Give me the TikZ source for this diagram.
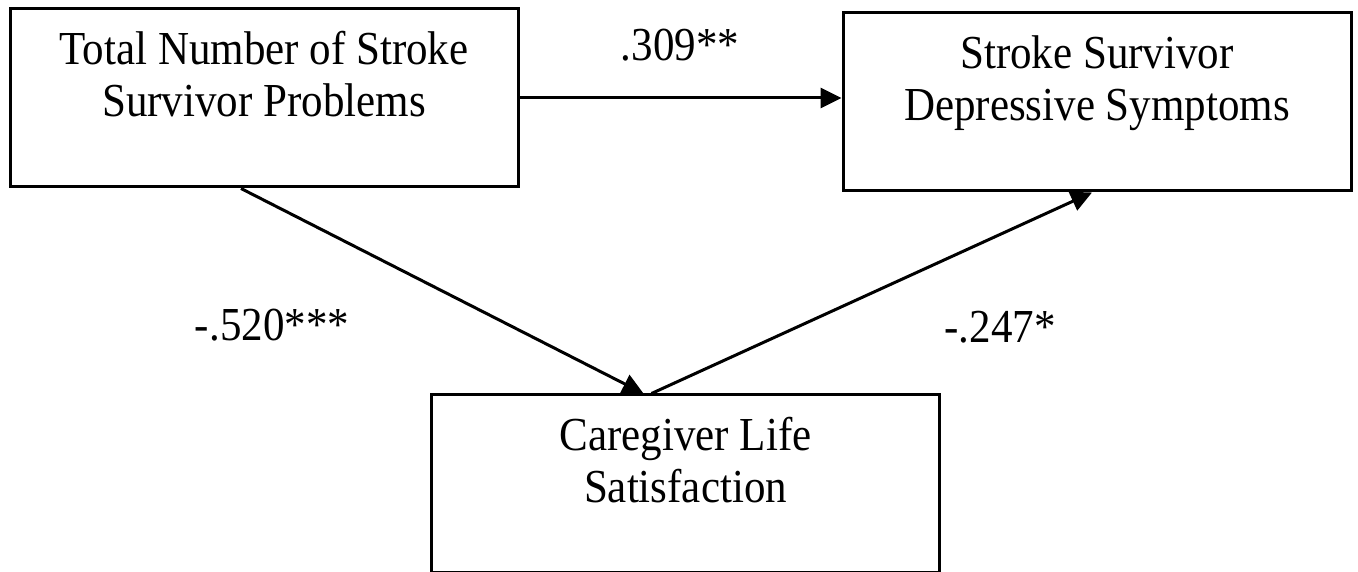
\documentclass[tikz,border=0pt]{standalone}
\usepackage{graphicx}
\usepackage{fontspec}
\setmainfont{Liberation Serif}
\usetikzlibrary{arrows.meta,positioning,calc}

\newcommand{\tall}[1]{\scalebox{1}[1.1]{#1}}
\newcommand{\boxlines}[2]{\parbox[c][89pt][t]{254pt}{\centering\rule{0pt}{28pt}\tall{#1}\\\tall{#2}}}

\begin{document}
\begin{tikzpicture}[
    font=\fontsize{21.5}{26}\selectfont,
    varbox/.style={draw, line width=1.5pt, inner sep=0pt},
    arr/.style={-{Triangle[length=10.5pt,width=10pt]}, line width=1.5pt},
    lbl/.style={inner sep=0pt}]
    \clip (0,0) rectangle (679pt,286pt);

    % Variables
    \node[varbox] (probs) at (132pt,237pt) {\boxlines{Total Number of Stroke}{Survivor Problems}};
    \node[varbox] (depress) at (548.5pt,235pt) {\boxlines{Stroke Survivor}{Depressive Symptoms}};
    \node[varbox] (satis) at (342.75pt,44pt) {\boxlines{Caregiver Life}{Satisfaction}};

    % Paths
    \draw[arr] (probs.east) -- (probs.east -| depress.west);
    \draw[arr] ($(probs.south)+(-11.5pt,0)$) -- ($(satis.north)+(-21pt,0)$);
    \draw[arr] ($(satis.north)+(-17pt,0)$) -- ($(depress.south)+(-2.5pt,0)$);

    % Coefficients
    \node[lbl] (c1) at (340pt,263.5pt) {\tall{.309**}};
    \node[lbl] (c2) at (136pt,123.5pt) {\tall{-.520***}};
    \node[lbl] (c3) at (500pt,122.5pt) {\tall{-.247*}};
\end{tikzpicture}
\end{document}
